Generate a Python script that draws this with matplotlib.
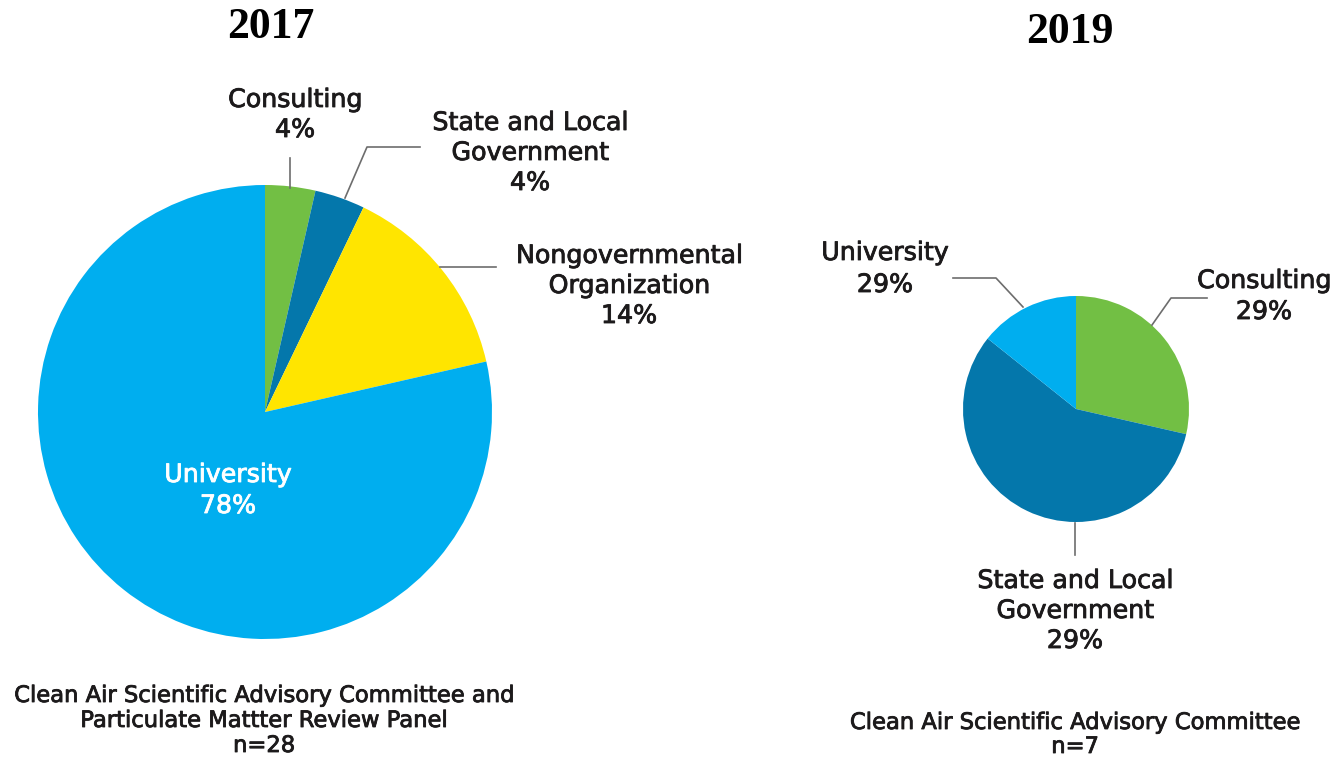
import matplotlib.pyplot as plt
import matplotlib.patheffects as pe

# ----------------------------------------------------
# Data
# ----------------------------------------------------
labels_2017 = [["Consulting"], ["State and Local", "Government"],
               ["Nongovernmental", "Organization"], ["University"]]
counts_2017 = [1, 1, 4, 22]
pct_2017 = ["4%", "4%", "14%", "78%"]

labels_2019 = [["Consulting"], ["State and Local", "Government"], ["University"]]
counts_2019 = [2, 4, 1]
pct_2019 = ["29%", "29%", "29%"]

note_2017 = ["Clean Air Scientific Advisory Committee and",
             "Particulate Mattter Review Panel", "n=28"]
note_2019 = ["Clean Air Scientific Advisory Committee", "n=7"]

colors_2017 = ["#72bf44", "#0477ab", "#ffe500", "#00aeef"]
colors_2019 = ["#72bf44", "#0477ab", "#00aeef"]

W, H = 1335, 759
TXT = "#1c1a1b"
LINE = "#6d6d6d"
FONT = "DejaVu Sans"

def Y(y):
    # pixel row -> data y
    return H - y

fig = plt.figure(figsize=(W / 100, H / 100), dpi=100)
ax = fig.add_axes([0, 0, 1, 1])

# ----------------------------------------------------
# Pies
# ----------------------------------------------------
ax.pie(counts_2017, colors=colors_2017, startangle=90, counterclock=False,
       center=(265, Y(412)), radius=227, wedgeprops=dict(linewidth=0))
ax.pie(counts_2019, colors=colors_2019, startangle=90, counterclock=False,
       center=(1076, Y(409)), radius=113, wedgeprops=dict(linewidth=0))

ax.set_xlim(0, W)
ax.set_ylim(0, H)
ax.set_aspect("auto")
ax.axis("off")

# ----------------------------------------------------
# Titles
# ----------------------------------------------------
ax.text(271, Y(27), "2017", ha="center", va="center", fontsize=31.5,
        fontweight="bold", family="Liberation Serif", color="black")
ax.text(1070, Y(32), "2019", ha="center", va="center", fontsize=31.5,
        fontweight="bold", family="Liberation Serif", color="black")

def lines(x, y0, rows, step=30, color=TXT, size=18.2):
    # one text per row, y0 = baseline of first row in pixels
    for i, row in enumerate(rows):
        t = ax.text(x, Y(y0 + i * step), row, ha="center", va="baseline",
                    fontsize=size, family=FONT, color=color)
        # slight stroke so the text looks semibold
        t.set_path_effects([pe.withStroke(linewidth=0.6, foreground=color)])

# 2017 labels
lines(295, 107, labels_2017[0] + [pct_2017[0]])
lines(530, 130, labels_2017[1] + [pct_2017[1]])
lines(629, 263, labels_2017[2] + [pct_2017[2]])
lines(228, 482, labels_2017[3] + [pct_2017[3]], step=31, color="white")

# 2019 labels
lines(1264, 288, labels_2019[0] + [pct_2019[0]], step=31)
lines(1075, 588, labels_2019[1] + [pct_2019[1]])
lines(885, 260, labels_2019[2] + [pct_2019[2]], step=32)

# leader lines
leaders = [
    ([290, 290], [158, 188]),
    ([345, 367, 420], [198, 147, 147]),
    ([440, 496], [267, 267]),
    ([953, 996, 1023], [278, 278, 307]),
    ([1152, 1171, 1207], [325, 298, 298]),
    ([1075, 1075], [523, 555]),
]
for xs, ys in leaders:
    ax.plot(xs, [Y(v) for v in ys], color=LINE, linewidth=1.2)

# ----------------------------------------------------
# Footnotes
# ----------------------------------------------------
lines(264, 702, note_2017, step=25, size=16.3)
lines(1075, 729, note_2019, step=24, size=16.3)

plt.savefig("out.png", dpi=100)
plt.close()
